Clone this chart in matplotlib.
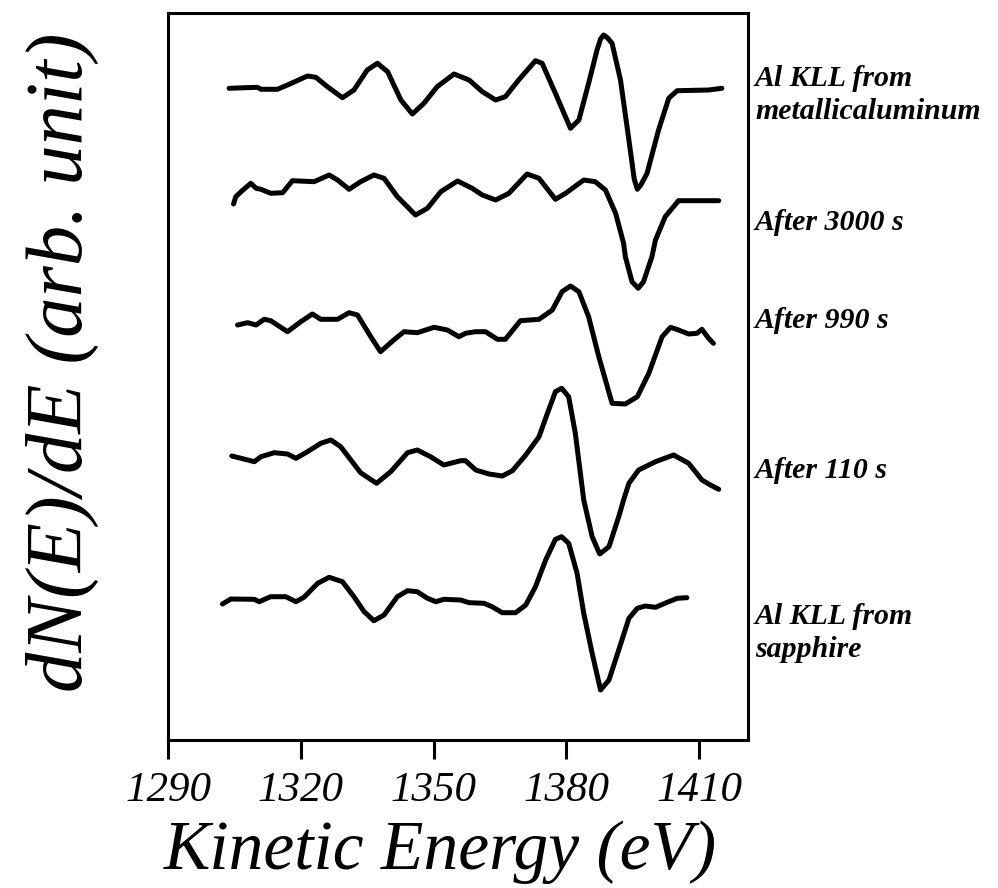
import matplotlib
matplotlib.use("Agg")
import matplotlib.pyplot as plt

# ---------------- data ----------------
labels = ["Al KLL from\nmetallicaluminum", "After 3000 s", "After 990 s",
          "After 110 s", "Al KLL from\nsapphire"]
offsets = [651, 540, 415, 284, 140]          # vertical stacking offsets (arb. unit)

e_metal = [1303.8, 1310.2, 1311.0, 1314.7, 1317.0, 1321.5, 1323.4, 1326.0, 1329.4, 1332.0,
           1335.0, 1337.3, 1339.6, 1342.6, 1345.2, 1347.8, 1350.8, 1354.6, 1358.0, 1361.0,
           1364.0, 1366.2, 1369.2, 1373.0, 1374.5, 1377.5, 1380.9, 1382.8, 1385.0, 1386.9,
           1387.7, 1388.4, 1389.3, 1390.3, 1392.2, 1394.1, 1395.3, 1396.0, 1396.8, 1398.2,
           1400.8, 1403.1, 1405.0, 1412.1, 1415.1]
s_metal = [0.7, 1.7, -0.3, -0.3, 4, 13, 11.7, 2.3, -8.7, -1,
           19, 25.7, 17.3, -11, -25, -14.3, 2.3, 15, 9, -2.7,
           -11, -7.7, 9, 28.3, 25.7, -4.3, -39.3, -31, 5.7, 39,
           50, 54, 51, 45.7, 9, -51, -90, -100.3, -96, -84.3,
           -41, -9.3, -1.7, -1, 0.7]

e_3000 = [1304.8, 1305.3, 1306.5, 1308.7, 1309.9, 1311.0, 1313.2, 1315.9, 1318.1, 1323.0,
          1326.4, 1328.3, 1330.9, 1333.5, 1336.5, 1338.8, 1341.8, 1345.9, 1348.6, 1351.6,
          1355.4, 1358.7, 1361.0, 1364.0, 1367.0, 1371.1, 1373.8, 1377.5, 1379.8, 1383.9,
          1386.5, 1388.8, 1391.1, 1392.9, 1393.3, 1394.8, 1396.2, 1397.4, 1399.3, 1400.1,
          1402.3, 1405.3, 1414.4]
s_3000 = [-4, 3.3, 8.3, 16.7, 11.7, 10.7, 6.7, 7.3, 19.3, 18.3,
          25, 20, 10.7, 18.3, 25, 21.7, 3.3, -15, -8.3, 8.3,
          19, 11.7, 5, 0, 6.7, 26, 21.7, 0.7, 6.7, 20,
          18.3, 10, -13.3, -43.3, -56.7, -81.7, -88.3, -81.7, -56.7, -40,
          -16.7, -0.7, -0.7]

e_990 = [1305.7, 1308.0, 1309.9, 1311.7, 1313.2, 1317.0, 1320.0, 1322.6, 1324.5, 1328.3,
         1330.9, 1332.8, 1335.8, 1338.0, 1341.0, 1343.3, 1346.3, 1350.1, 1353.1, 1355.7,
         1357.2, 1359.5, 1361.7, 1364.4, 1366.2, 1369.6, 1373.8, 1376.8, 1379.0, 1380.9,
         1382.8, 1385.0, 1387.3, 1390.3, 1393.3, 1396.0, 1398.6, 1401.6, 1403.5, 1405.3,
         1407.6, 1409.5, 1410.6, 1412.1, 1413.2]
s_990 = [0, 2.3, 0, 5.7, 4.3, -6.7, 3.3, 11, 5.7, 5.7,
         12.3, 10, -11.7, -26.7, -15, -6.7, -7.7, -2.3, -5, -11.7,
         -8.3, -6.7, -6.7, -14.3, -14.3, 4.3, 5.7, 15, 33.3, 39,
         33.3, 8.3, -31.7, -78.3, -79, -71.7, -48.3, -11.7, -2.3, -5,
         -9, -8.3, -4.3, -13.3, -18.3]

e_110 = [1304.4, 1306.5, 1309.5, 1311.0, 1314.0, 1317.0, 1318.9, 1321.5, 1324.5, 1326.8,
         1329.0, 1333.5, 1337.1, 1340.3, 1344.1, 1346.3, 1349.3, 1352.3, 1356.1, 1357.2,
         1359.5, 1362.5, 1365.5, 1367.8, 1370.8, 1373.8, 1375.7, 1377.5, 1378.9, 1380.5,
         1382.0, 1383.9, 1385.8, 1387.5, 1389.6, 1391.8, 1392.9, 1394.1, 1396.3, 1400.1,
         1404.2, 1407.6, 1410.6, 1412.5, 1414.4]
s_110 = [0, -2.3, -5.7, -0.7, 3.3, 2, -2.3, 4.3, 12.7, 16,
         9.3, -16.7, -27.3, -15.7, 3.3, 6, -0.7, -9, -4.7, -4.7,
         -14, -18, -20, -14.7, 1, 19.3, 42.7, 64.3, 67.7, 59.3,
         22.7, -44, -80.7, -98, -90.7, -60.7, -44, -27.3, -14, -5.7,
         1, -7.3, -24, -29, -33.3]

e_sapph = [1302.3, 1304.2, 1309.5, 1310.6, 1313.2, 1316.6, 1318.9, 1320.7, 1323.8, 1326.4,
           1329.4, 1332.0, 1334.3, 1336.5, 1338.8, 1341.8, 1344.1, 1346.3, 1348.6, 1350.5,
           1352.3, 1356.1, 1358.0, 1361.4, 1363.2, 1365.5, 1368.5, 1370.8, 1373.0, 1375.3,
           1377.5, 1378.9, 1380.5, 1382.4, 1383.9, 1385.8, 1387.7, 1389.6, 1391.8, 1394.1,
           1396.0, 1397.8, 1400.1, 1403.1, 1405.0, 1407.2]
s_sapph = [-4, 1, 0.7, -1.7, 3.3, 3.3, -1.7, 2.7, 16.7, 22.7,
           18.3, 3.3, -11.7, -20.7, -15, 3.3, 9.3, 8.3, 1.7, -1.7,
           0.7, 0, -2.7, -3.3, -6.7, -12.7, -12.7, -5, 13.3, 40,
           60.7, 63.3, 56.7, 26.7, -13.3, -53.3, -90, -80, -50, -18.3,
           -8.3, -6, -7.3, -1.7, 1.7, 2.3]

energies = [e_metal, e_3000, e_990, e_110, e_sapph]
signals = [s_metal, s_3000, s_990, s_110, s_sapph]

xticks = [1290, 1320, 1350, 1380, 1410]

# ---------------- figure ----------------
W, H = 998, 888
SERIF = "Liberation Serif"
fig = plt.figure(figsize=(W / 100, H / 100), dpi=100)
ax = fig.add_axes([168 / W, (H - 740) / H, 580 / W, 727 / H])

for e, s, off in zip(energies, signals, offsets):
    ax.plot(e, [v + off for v in s], color="black", lw=3.6,
            solid_joinstyle="round", solid_capstyle="round")

ax.set_xlim(1290, 1421)
ax.set_ylim(0, 727)
ax.set_yticks([])
ax.set_xticks(xticks)
ax.set_xticklabels([str(t) for t in xticks], fontfamily=SERIF,
                   fontstyle="italic", fontsize=31)
ax.tick_params(axis="x", direction="out", length=14, width=2.2, pad=9)
for sp in ax.spines.values():
    sp.set_linewidth(2.2)

fig.text(440 / W, 1 - 852 / H, "Kinetic Energy (eV)", fontfamily=SERIF,
         fontstyle="italic", fontsize=50, ha="center", va="center")
fig.text(62 / W, 1 - 362 / H, "dN(E)/dE (arb. unit)", fontfamily=SERIF,
         fontstyle="italic", fontsize=58, ha="center", va="center", rotation=90)

# curve labels on the right
label_y = [95, 222, 320, 470, 633]
for lab, yy in zip(labels, label_y):
    fig.text(755 / W, 1 - yy / H, lab, fontfamily=SERIF,
             fontstyle="italic", fontweight="bold", fontsize=21.5, va="center", ha="left",
             linespacing=1.25)

fig.savefig("out.png", dpi=100)
